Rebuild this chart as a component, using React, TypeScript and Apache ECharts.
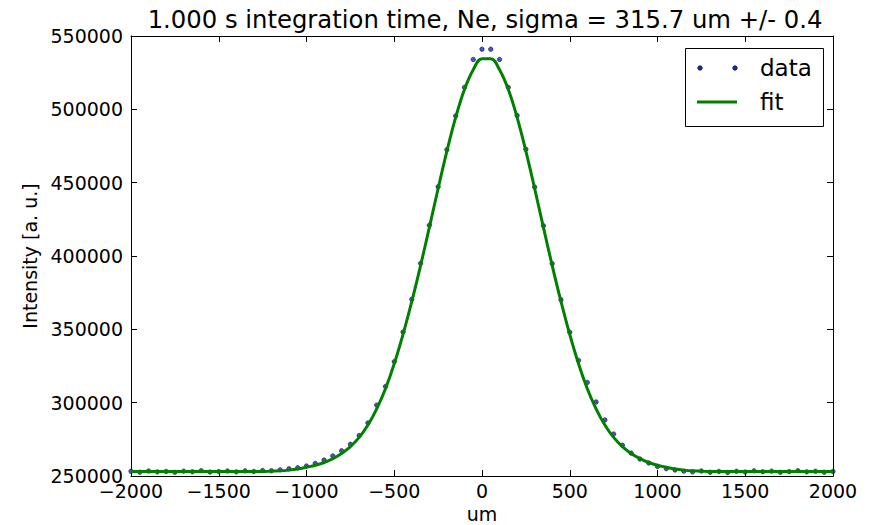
import React, { useEffect, useRef } from 'react';
import * as echarts from 'echarts';

// Scan positions [um]
const positions = [
  -2000, -1950, -1900, -1850, -1800, -1750, -1700, -1650, -1600, -1550,
  -1500, -1450, -1400, -1350, -1300, -1250, -1200, -1150, -1100, -1050,
  -1000, -950, -900, -850, -800, -750, -700, -650, -600, -550,
  -500, -450, -400, -350, -300, -250, -200, -150, -100, -50,
  0, 50, 100, 150, 200, 250, 300, 350, 400, 450,
  500, 550, 600, 650, 700, 750, 800, 850, 900, 950,
  1000, 1050, 1100, 1150, 1200, 1250, 1300, 1350, 1400, 1450,
  1500, 1550, 1600, 1650, 1700, 1750, 1800, 1850, 1900, 1950, 2000,
];

// Measured intensity [a. u.]
const dataValues = [
  253200, 252600, 253400, 252800, 253100, 252500, 253300, 252900, 253600, 252700,
  253000, 253400, 252800, 253500, 253100, 253800, 253600, 254200, 254900, 255600,
  256800, 258600, 260900, 263700, 267200, 271600, 277600, 286200, 298300, 311000,
  328000, 348200, 370500, 395000, 421000, 447200, 472500, 495500, 515000, 534000,
  541000, 541000, 534000, 515000, 495800, 472800, 447000, 420600, 394800, 370200,
  348000, 328800, 313800, 300500, 288200, 278600, 271000, 265600, 261600, 258900,
  256500, 255000, 254100, 253300, 252800, 253400, 252600, 253100, 252400, 253200,
  252700, 253500, 252900, 253300, 252500, 253000, 253600, 252800, 253200, 252600, 253100,
];

// Gaussian fit curve [a. u.]
const fitValues = [
  253000, 253000, 253000, 253000, 253000, 253000, 253000, 253000, 253000, 253000,
  253000, 253000, 253000, 253000, 253000, 253000, 253300, 253500, 254000, 254800,
  256000, 257300, 259200, 261800, 265300, 270000, 276300, 284800, 295800, 309500,
  326500, 346500, 369000, 393500, 419500, 446000, 471500, 494500, 513500, 527000,
  534500, 534500, 527000, 513500, 494500, 471500, 446000, 419500, 393500, 369000,
  346500, 326500, 309500, 295800, 284800, 276300, 270000, 265300, 261800, 259200,
  257300, 256000, 254800, 254000, 253500, 253300, 253000, 253000, 253000, 253000,
  253000, 253000, 253000, 253000, 253000, 253000, 253000, 253000, 253000, 253000, 253000,
];

const titleText = '1.000 s integration time, Ne, sigma = 315.7 um +/- 0.4';
const xName = 'um';
const yName = 'Intensity [a. u.]';
const legendNames = ['data', 'fit'];

const FONT = 'DejaVu Sans';
const DOT_FILL = '#1b2bb0';

export default function App() {
  const ref = useRef<HTMLDivElement>(null);

  useEffect(() => {
    if (!ref.current) return;
    const chart = echarts.init(ref.current, undefined, { renderer: 'svg' });

    const fmtX = (v: number) => (v < 0 ? '\u2212' + Math.abs(v) : String(v));
    const fmtY = (v: number) => String(v);

    const baseAxis = {
      axisLine: { show: true, onZero: false, lineStyle: { color: '#000', width: 1 } },
      axisTick: { show: true, inside: true, length: 6, lineStyle: { color: '#000', width: 1 } },
      splitLine: { show: false },
    };

    chart.setOption({
      animation: false,
      backgroundColor: '#fff',
      title: {
        text: titleText,
        left: 480,
        textAlign: 'center',
        top: 2,
        textStyle: { fontFamily: FONT, fontSize: 24.3, fontWeight: 'normal', color: '#000' },
      },
      grid: { left: 131, right: 38, top: 36, bottom: 49, containLabel: false, outerBoundsMode: 'none' },
      xAxis: [
        {
          ...baseAxis,
          type: 'value',
          position: 'bottom',
          min: -2000,
          max: 2000,
          interval: 500,
          name: xName,
          nameLocation: 'middle',
          nameGap: 27,
          nameTextStyle: { fontFamily: FONT, fontSize: 19, color: '#000' },
          axisLabel: {
            show: true,
            margin: 5,
            fontFamily: FONT,
            fontSize: 19,
            color: '#000',
            formatter: fmtX,
            showMinLabel: true,
            showMaxLabel: true,
          },
        },
        {
          ...baseAxis,
          type: 'value',
          position: 'top',
          min: -2000,
          max: 2000,
          interval: 500,
          axisLabel: { show: false },
        },
      ],
      yAxis: [
        {
          ...baseAxis,
          type: 'value',
          position: 'left',
          min: 250000,
          max: 550000,
          interval: 50000,
          name: yName,
          nameLocation: 'middle',
          nameGap: 86,
          nameTextStyle: { fontFamily: FONT, fontSize: 19, color: '#000' },
          axisLabel: {
            show: true,
            margin: 8,
            fontFamily: FONT,
            fontSize: 19,
            color: '#000',
            formatter: fmtY,
            showMinLabel: true,
            showMaxLabel: true,
          },
        },
        {
          ...baseAxis,
          type: 'value',
          position: 'right',
          min: 250000,
          max: 550000,
          interval: 50000,
          axisLabel: { show: false },
        },
      ],
      series: [
        {
          name: legendNames[0],
          type: 'scatter',
          xAxisIndex: 0,
          yAxisIndex: 0,
          z: 2,
          symbol: 'circle',
          symbolSize: 4.5,
          itemStyle: { color: DOT_FILL, borderColor: '#000', borderWidth: 0.6 },
          data: positions.map((x, i) => [x, dataValues[i]]),
        },
        {
          name: legendNames[1],
          type: 'line',
          xAxisIndex: 0,
          yAxisIndex: 0,
          z: 3,
          smooth: 0.4,
          showSymbol: false,
          symbol: 'none',
          lineStyle: { color: '#008000', width: 3 },
          data: positions.map((x, i) => [x, fitValues[i]]),
        },
      ],
      graphic: [
        {
          type: 'rect',
          shape: { x: 685.5, y: 48.5, width: 138, height: 78 },
          style: { fill: '#fff', stroke: '#000', lineWidth: 1 },
          z: 100,
        },
        {
          type: 'circle',
          shape: { cx: 700, cy: 68, r: 2.3 },
          style: { fill: DOT_FILL, stroke: '#000', lineWidth: 0.6 },
          z: 101,
        },
        {
          type: 'circle',
          shape: { cx: 735, cy: 68, r: 2.3 },
          style: { fill: DOT_FILL, stroke: '#000', lineWidth: 0.6 },
          z: 101,
        },
        {
          type: 'text',
          x: 760,
          y: 68,
          style: {
            text: legendNames[0],
            fontFamily: FONT,
            fontSize: 23,
            fill: '#000',
            textVerticalAlign: 'middle',
            verticalAlign: 'middle',
          },
          z: 101,
        },
        {
          type: 'line',
          shape: { x1: 697, y1: 102, x2: 737, y2: 102 },
          style: { stroke: '#008000', lineWidth: 3 },
          z: 101,
        },
        {
          type: 'text',
          x: 760,
          y: 102,
          style: {
            text: legendNames[1],
            fontFamily: FONT,
            fontSize: 23,
            fill: '#000',
            textVerticalAlign: 'middle',
            verticalAlign: 'middle',
          },
          z: 101,
        },
      ],
    });

    return () => chart.dispose();
  }, []);

  return (
    <div
      ref={ref}
      style={{ position: 'fixed', left: 0, top: 0, width: 871, height: 525, background: '#fff' }}
    />
  );
}
